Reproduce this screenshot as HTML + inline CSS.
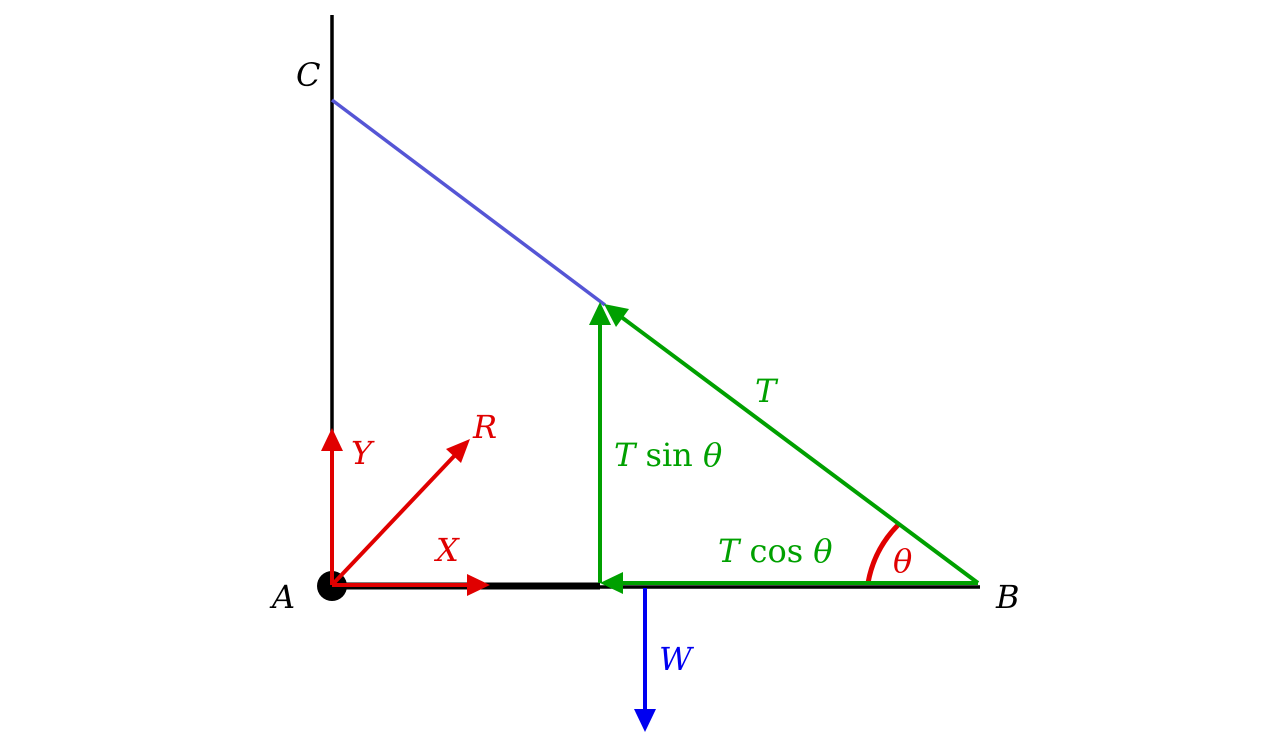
<!DOCTYPE html>
<html><head><style>body{margin:0;background:#fff}svg{display:block}text{font-family:"DejaVu Serif","Liberation Serif",serif;font-style:italic;font-size:32px}</style></head>
<body>
<svg width="1280" height="738" viewBox="0 0 1280 738" xmlns="http://www.w3.org/2000/svg">
<line x1="332" y1="15" x2="332" y2="585" stroke="#000" stroke-width="3.5"/>
<line x1="332" y1="100" x2="605" y2="305" stroke="#5555d5" stroke-width="3.5"/>
<line x1="332" y1="586" x2="600" y2="586" stroke="#000" stroke-width="7"/>
<line x1="600" y1="587" x2="980" y2="587" stroke="#000" stroke-width="3.5"/>
<circle cx="332" cy="586" r="15" fill="#000"/>
<g stroke="#e00000" stroke-width="4" fill="#e00000">
<line x1="332" y1="585" x2="332" y2="448"/><polygon points="332,428 321,451 343,451" stroke="none"/>
<line x1="332" y1="585" x2="458" y2="452"/><polygon points="470,439 446,449 461,463" stroke="none"/>
<line x1="332" y1="585" x2="470" y2="585"/><polygon points="490,585 467,574 467,596" stroke="none"/>
<path d="M868,583 A110,110 0 0 1 898,525" fill="none" stroke-width="5"/>
</g>
<g stroke="#00a000" stroke-width="4" fill="#00a000">
<line x1="600" y1="583" x2="600" y2="322"/><polygon points="600,302 589,325 611,325" stroke="none"/>
<line x1="978" y1="583" x2="620" y2="316"/><polygon points="604,304 616,327 629,309" stroke="none"/>
<line x1="978" y1="583" x2="620" y2="583"/><polygon points="600,583 623,572 623,594" stroke="none"/>
</g>
<line x1="645" y1="588" x2="645" y2="712" stroke="#0000f0" stroke-width="4"/>
<polygon points="645,732 634,709 656,709" fill="#0000f0"/>
<text x="296" y="86">C</text>
<text x="272" y="608">A</text>
<text x="996" y="608">B</text>
<g fill="#e00000"><text x="351" y="464">Y</text><text x="473" y="438">R</text><text x="436" y="561">X</text><text x="893" y="572" font-size="30">θ</text></g>
<g fill="#00a000"><text x="755" y="402">T</text><text x="614" y="466">T <tspan font-style="normal">sin</tspan> θ</text><text x="718" y="562">T <tspan font-style="normal">cos</tspan> θ</text></g>
<text x="659" y="670" fill="#0000f0">W</text>
</svg>
</body></html>
